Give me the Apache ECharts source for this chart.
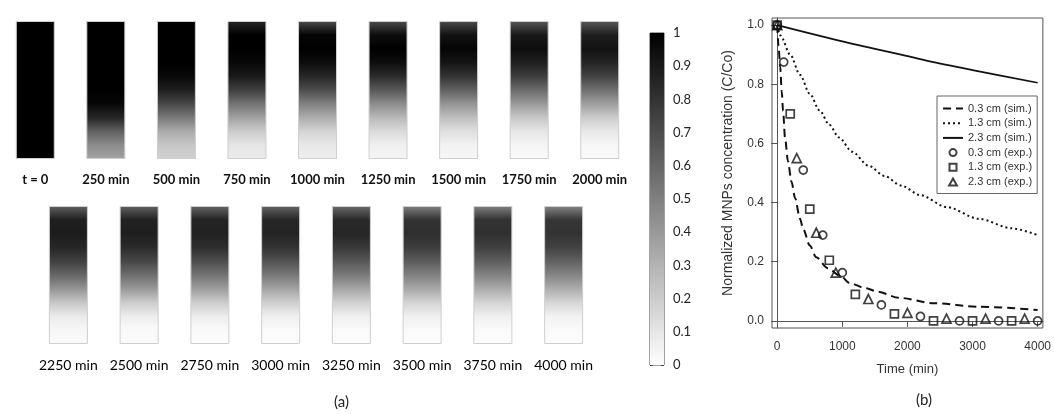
<!DOCTYPE html>
<html lang="en">
<head>
<meta charset="UTF-8">
<title>MNPs concentration</title>
<script src="https://cdn.jsdelivr.net/npm/echarts@6/dist/echarts.min.js"></script>
<style>
    html, body { margin: 0; padding: 0; background: #fff; }
    #main { width: 1054px; height: 414px; }
</style>
</head>
<body>
<div id="main"></div>
<script>
// ---- (a) concentration columns, read top (0) to bottom (1) ----
var depthStops = [0, 0.1, 0.2, 0.3, 0.4, 0.5, 0.6, 0.7, 0.8, 0.9, 1];

var topLabels = ['t = 0', '250 min', '500 min', '750 min', '1000 min', '1250 min', '1500 min', '1750 min', '2000 min'];
var topProfiles = [
    [1, 1, 1, 1, 1, 1, 1, 1, 1, 1, 1],
    [1, 1, 1, 1, 1, 1, 0.97, 0.85, 0.62, 0.45, 0.36],
    [1, 1, 1, 1, 0.97, 0.88, 0.72, 0.52, 0.33, 0.22, 0.18],
    [0.85, 1, 1, 0.97, 0.9, 0.75, 0.55, 0.37, 0.2, 0.1, 0.08],
    [0.7, 0.98, 1, 0.95, 0.85, 0.7, 0.5, 0.32, 0.17, 0.09, 0.07],
    [0.7, 0.95, 1, 0.95, 0.83, 0.65, 0.45, 0.28, 0.14, 0.06, 0.04],
    [0.7, 0.93, 0.98, 0.92, 0.8, 0.62, 0.42, 0.25, 0.12, 0.05, 0.03],
    [0.65, 0.9, 0.95, 0.88, 0.76, 0.58, 0.4, 0.22, 0.1, 0.04, 0.02],
    [0.65, 0.88, 0.93, 0.86, 0.74, 0.56, 0.38, 0.2, 0.09, 0.03, 0.02]
];

var bottomLabels = ['2250 min', '2500 min', '2750 min', '3000 min', '3250 min', '3500 min', '3750 min', '4000 min'];
var bottomProfiles = [
    [0.62, 0.88, 0.89, 0.85, 0.75, 0.6, 0.42, 0.22, 0.08, 0.03, 0.02],
    [0.62, 0.87, 0.88, 0.83, 0.72, 0.57, 0.4, 0.2, 0.07, 0.02, 0.02],
    [0.6, 0.86, 0.87, 0.82, 0.7, 0.55, 0.38, 0.2, 0.07, 0.02, 0.01],
    [0.6, 0.85, 0.86, 0.8, 0.68, 0.53, 0.36, 0.19, 0.06, 0.02, 0.01],
    [0.58, 0.84, 0.85, 0.78, 0.66, 0.52, 0.35, 0.18, 0.06, 0.02, 0.01],
    [0.5, 0.8, 0.82, 0.76, 0.64, 0.5, 0.34, 0.17, 0.06, 0.02, 0.01],
    [0.5, 0.8, 0.81, 0.75, 0.63, 0.49, 0.33, 0.17, 0.06, 0.02, 0.01],
    [0.48, 0.79, 0.8, 0.74, 0.62, 0.48, 0.32, 0.16, 0.05, 0.02, 0.01]
];

var colorbarTicks = [1, 0.9, 0.8, 0.7, 0.6, 0.5, 0.4, 0.3, 0.2, 0.1, 0];

// ---- (b) normalized concentration vs time ----
var sim03 = [[0, 1], [20, 0.93], [45, 0.86], [70, 0.775], [90, 0.71], [120, 0.62], [165, 0.54], [220, 0.47],
    [275, 0.415], [350, 0.345], [400, 0.31], [500, 0.255], [600, 0.215], [775, 0.178], [985, 0.15],
    [1110, 0.128], [1365, 0.11], [1540, 0.099], [1870, 0.078], [2400, 0.06], [3100, 0.048], [4000, 0.037]];
var sim13 = [[0, 1], [50, 0.965], [200, 0.9], [350, 0.832], [500, 0.768], [650, 0.712], [800, 0.663],
    [950, 0.62], [1150, 0.572], [1400, 0.525], [1650, 0.49], [1900, 0.458], [2200, 0.425], [2600, 0.385],
    [3100, 0.345], [3600, 0.313], [4000, 0.29]];
var sim23 = [[0, 1], [1000, 0.945], [2000, 0.895], [2327, 0.878], [3000, 0.848], [4000, 0.805]];
var exp03 = [[0, 1], [100, 0.875], [400, 0.51], [700, 0.29], [1000, 0.163], [1600, 0.054], [2200, 0.015],
    [2800, 0], [3400, 0], [4000, 0]];
var exp13 = [[0, 1], [200, 0.7], [500, 0.378], [800, 0.205], [1200, 0.09], [1800, 0.024], [2400, 0],
    [3000, 0], [3600, 0]];
var exp23 = [[0, 1], [300, 0.55], [600, 0.298], [900, 0.163], [1400, 0.074], [2000, 0.027], [2600, 0.008],
    [3200, 0.008], [3800, 0.008]];
var timeTicks = [0, 1000, 2000, 3000, 4000];
var concTicks = [0, 0.2, 0.4, 0.6, 0.8, 1.0];

function gray (v) {
    var g = Math.round(255 * (1 - v));
    return 'rgb(' + g + ',' + g + ',' + g + ')';
}

function columnFill (profile) {
    return new echarts.graphic.LinearGradient(0, 0, 0, 1, profile.map(function (v, i) {
        return { offset: depthStops[i], color: gray(v) };
    }));
}

var colorbarFill = new echarts.graphic.LinearGradient(0, 0, 0, 1, colorbarTicks.map(function (v) {
    return { offset: 1 - v, color: gray(v) };
}));

function columnData (profiles) {
    return profiles.map(function (p) {
        return { value: 1, itemStyle: { color: columnFill(p) } };
    });
}

var labelFont = 'Lato, "Liberation Sans", sans-serif';
var plotFont = '"Liberation Sans", Arial, sans-serif';
var ink = '#333';
var hollow = { color: 'rgba(255,255,255,0)', borderColor: '#111', borderWidth: 1.7 };

var chart = echarts.init(document.getElementById('main'));

var option = {
    animation: false,
    backgroundColor: '#fff',
    grid: [
        { left: -4, top: 21, width: 639, height: 138 },
        { left: 33, top: 206, width: 566, height: 138 },
        { left: 650, top: 33, width: 14, height: 332, show: true, borderColor: '#444', borderWidth: 1 },
        { left: 772, top: 18, width: 273, height: 310, show: true, borderColor: '#555', borderWidth: 1 }
    ],
    xAxis: [
        {
            gridIndex: 0, type: 'category', data: topLabels,
            axisLine: { show: false }, axisTick: { show: false },
            axisLabel: { interval: 0, margin: 14, fontFamily: labelFont, fontWeight: 'bold', fontSize: 13, color: '#111' }
        },
        {
            gridIndex: 1, type: 'category', data: bottomLabels,
            axisLine: { show: false }, axisTick: { show: false },
            axisLabel: { interval: 0, margin: 14, fontFamily: labelFont, fontSize: 14, color: '#000' }
        },
        { gridIndex: 2, type: 'category', data: [''], show: false },
        {
            gridIndex: 3, type: 'value', min: -80, max: 4080,
            name: 'Time (min)', nameLocation: 'middle', nameGap: 35,
            nameTextStyle: { fontFamily: plotFont, fontSize: 13, color: ink },
            axisLine: { show: true, lineStyle: { color: '#555' } },
            axisTick: { show: true, inside: false, length: 6, customValues: timeTicks, lineStyle: { color: '#555' } },
            axisLabel: {
                customValues: timeTicks, margin: 13, fontFamily: plotFont, fontSize: 12, color: ink,
                formatter: function (v) { return String(v); }
            },
            splitLine: { show: false }
        }
    ],
    yAxis: [
        { gridIndex: 0, type: 'value', min: 0, max: 1, show: false },
        { gridIndex: 1, type: 'value', min: 0, max: 1, show: false },
        {
            gridIndex: 2, type: 'value', min: 0, max: 1, interval: 0.1, position: 'left',
            axisLine: { show: false }, axisTick: { show: true, inside: true, length: 3, lineStyle: { color: '#444' } },
            axisLabel: { show: false }, splitLine: { show: false }
        },
        {
            gridIndex: 2, type: 'value', min: 0, max: 1, interval: 0.1, position: 'right',
            axisLine: { show: false }, axisTick: { show: true, inside: true, length: 3, lineStyle: { color: '#444' } },
            axisLabel: { margin: 9, fontFamily: labelFont, fontSize: 13, color: '#222' },
            splitLine: { show: false }
        },
        {
            gridIndex: 3, type: 'value', min: -0.024, max: 1.024,
            name: 'Normalized MNPs concentration (C/Co)', nameLocation: 'middle', nameGap: 37,
            nameTextStyle: { fontFamily: plotFont, fontSize: 14, color: ink },
            axisLine: { show: true, lineStyle: { color: '#555' } },
            axisTick: { show: true, inside: false, length: 6, customValues: concTicks, lineStyle: { color: '#555' } },
            axisLabel: {
                customValues: concTicks, margin: 8, fontFamily: plotFont, fontSize: 12, color: ink,
                formatter: function (v) { return v.toFixed(1); }
            },
            splitLine: { show: false }
        }
    ],
    legend: {
        data: [
            { name: '0.3 cm (sim.)', itemStyle: { opacity: 0 } },
            { name: '1.3 cm (sim.)', itemStyle: { opacity: 0 } },
            { name: '2.3 cm (sim.)', itemStyle: { opacity: 0 } },
            { name: '0.3 cm (exp.)', icon: 'circle' },
            { name: '1.3 cm (exp.)', icon: 'path://M0,0h10v10h-10z' },
            { name: '2.3 cm (exp.)', icon: 'path://M5,0L10,9L0,9z' }
        ],
        orient: 'vertical', left: 937, top: 96,
        padding: [7, 5, 6, 5], itemGap: 3.7, itemWidth: 20, itemHeight: 7,
        borderColor: '#666', borderWidth: 1, backgroundColor: '#fff',
        textStyle: { fontFamily: plotFont, fontSize: 11, color: ink }
    },
    graphic: [
        { type: 'text', left: 334, top: 395, style: { text: '(a)', font: '15px Lato, sans-serif', fill: '#222' } },
        { type: 'text', left: 916, top: 393, style: { text: '(b)', font: '15px Lato, sans-serif', fill: '#222' } }
    ],
    series: [
        {
            type: 'bar', xAxisIndex: 0, yAxisIndex: 0, barWidth: 39, silent: true,
            itemStyle: { borderColor: '#cfcfcf', borderWidth: 1 },
            data: columnData(topProfiles)
        },
        {
            type: 'bar', xAxisIndex: 1, yAxisIndex: 1, barWidth: 39, silent: true,
            itemStyle: { borderColor: '#cfcfcf', borderWidth: 1 },
            data: columnData(bottomProfiles)
        },
        {
            type: 'bar', xAxisIndex: 2, yAxisIndex: 3, barWidth: '100%', silent: true,
            data: [{ value: 1, itemStyle: { color: colorbarFill } }]
        },
        {
            name: '0.3 cm (sim.)', type: 'line', xAxisIndex: 3, yAxisIndex: 4, data: sim03,
            symbol: 'none', smooth: 0.3, smoothMonotone: 'x', color: '#111',
            lineStyle: { color: '#111', width: 2, type: [8, 5] }
        },
        {
            name: '1.3 cm (sim.)', type: 'line', xAxisIndex: 3, yAxisIndex: 4, data: sim13,
            symbol: 'none', smooth: 0.3, smoothMonotone: 'x', color: '#111',
            lineStyle: { color: '#111', width: 2, type: [2, 3] }
        },
        {
            name: '2.3 cm (sim.)', type: 'line', xAxisIndex: 3, yAxisIndex: 4, data: sim23,
            symbol: 'none', smooth: 0.3, color: '#111',
            lineStyle: { color: '#111', width: 1.7, type: 'solid' }
        },
        {
            name: '0.3 cm (exp.)', type: 'scatter', xAxisIndex: 3, yAxisIndex: 4, data: exp03,
            symbol: 'circle', symbolSize: 8, itemStyle: hollow
        },
        {
            name: '1.3 cm (exp.)', type: 'scatter', xAxisIndex: 3, yAxisIndex: 4, data: exp13,
            symbol: 'rect', symbolSize: 8, itemStyle: hollow
        },
        {
            name: '2.3 cm (exp.)', type: 'scatter', xAxisIndex: 3, yAxisIndex: 4, data: exp23,
            symbol: 'triangle', symbolSize: 9, itemStyle: hollow
        }
    ]
};

chart.setOption(option);
</script>
</body>
</html>
